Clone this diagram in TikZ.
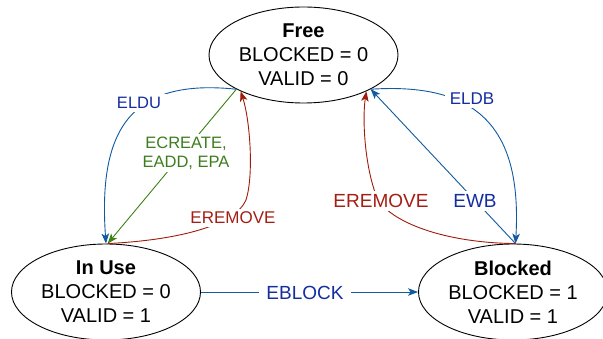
\documentclass[tikz,border=0pt]{standalone}
\usepackage{fontspec}
\setmainfont{Liberation Sans}
\usetikzlibrary{shapes.geometric,arrows.meta}
\definecolor{blueline}{RGB}{16,90,160}
\definecolor{bluetext}{RGB}{20,45,160}
\definecolor{redline}{RGB}{160,28,10}
\definecolor{redtext}{RGB}{165,30,20}
\definecolor{greenline}{RGB}{60,130,20}
\definecolor{greentext}{RGB}{60,125,30}
\begin{document}
\begin{tikzpicture}[x=1pt,y=-1pt,
  state/.style={ellipse,draw=black,line width=0.9pt,minimum width=189pt,minimum height=96pt,inner sep=0pt,align=center,font=\fontsize{20}{24}\selectfont},
  lbl/.style={fill=white,inner xsep=5pt,inner ysep=3pt,align=center},
  arr/.style={line width=0.9pt,-{Stealth[length=10pt,width=7.5pt,inset=2.5pt]}},
]
\useasboundingbox (0,0) rectangle (603,339);
\node[state] (free) at (303.5,55) {\textbf{Free}\\BLOCKED = 0\\VALID = 0};
\node[state] (inuse) at (106,292) {\textbf{In Use}\\BLOCKED = 0\\VALID = 1};
\node[state] (blocked) at (513,292) {\textbf{Blocked}\\BLOCKED = 1\\VALID = 1};

% edges
\draw[arr,blueline] (free.207) .. controls (130,78) and (98,130) .. (inuse.90);
\draw[arr,greenline] (free.207) -- (inuse.88);
\draw[arr,redline] (inuse.88) .. controls (180,240) and (235,225) .. (246,200) .. controls (254,175) and (250,120) .. (free.210);
\draw[arr,blueline] (free.333) .. controls (480,82) and (522,130) .. (blocked.87);
\draw[arr,blueline] (blocked.87) -- (free.333);
\draw[arr,redline] (blocked.87) .. controls (450,243) and (395,225) .. (378,200) .. controls (365,170) and (362,120) .. (free.330);
\draw[arr,blueline] (inuse.east) -- (blocked.west);

% labels
\node[lbl,text=bluetext,font=\fontsize{16.5}{19}\selectfont] (eldu) at (139,103) {ELDU};
\node[lbl,text=greentext,font=\fontsize{16.5}{19}\selectfont] (ecreate) at (186,153) {ECREATE,\\EADD, EPA};
\node[lbl,text=redtext,font=\fontsize{17}{20}\selectfont] (eremovel) at (233,218) {EREMOVE};
\node[lbl,text=bluetext,font=\fontsize{17}{20}\selectfont] (eldb) at (472,99) {ELDB};
\node[lbl,text=bluetext,font=\fontsize{19}{22}\selectfont] (ewb) at (475,201) {EWB};
\node[lbl,text=redtext,font=\fontsize{19}{22}\selectfont] (eremover) at (381,201) {EREMOVE};
\node[lbl,text=bluetext,font=\fontsize{19}{22}\selectfont,inner xsep=7pt] (eblock) at (305,293) {EBLOCK};
\end{tikzpicture}
\end{document}
